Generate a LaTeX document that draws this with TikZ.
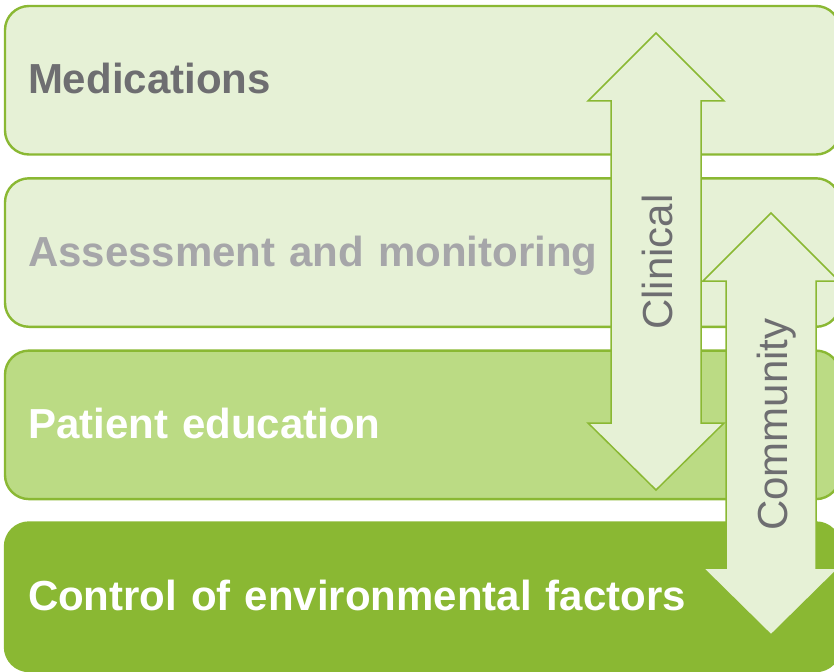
\documentclass[tikz,border=0pt]{standalone}
\usepackage{fontspec}
\setmainfont{Liberation Sans}
\usepackage{tikz}
\definecolor{leafgreen}{HTML}{8AB833}
\definecolor{palegreen}{HTML}{E6F1D6}
\definecolor{midgreen}{HTML}{BBDB84}
\definecolor{slate}{HTML}{6E6E71}
\definecolor{mist}{HTML}{A6A6A9}
\tikzset{
  layer/.style={rounded corners=24pt,line width=2.4pt,draw=leafgreen,
    minimum width=835pt,minimum height=148.5pt,inner xsep=23pt,inner ysep=0pt,
    text width=789pt,align=left,text height=27pt,text depth=0pt,
    font=\fontsize{42}{48}\selectfont\bfseries},
  shaftline/.style={draw=leafgreen,fill=palegreen,line width=1.5pt,line join=miter},
  sidelabel/.style={rotate=90,anchor=base,inner sep=0pt,text=slate,
    font=\fontsize{42}{48}\selectfont}
}
\begin{document}
\begin{tikzpicture}[x=1pt,y=-1pt]
\clip (0,0) rectangle (834,671);
% ---------------- stacked layers ----------------
\node[layer,fill=palegreen,text=slate]  (med)    at (422.5,80.25)  {Medications};
\node[layer,fill=palegreen,text=mist]   (assess) at (422.5,252.55) {Assessment and monitoring};
\node[layer,fill=midgreen,text=white]   (edu)    at (422.5,424.85) {Patient education};
\node[layer,fill=leafgreen,draw=leafgreen,text=white] (envir) at (422.5,596.75) {Control of environmental factors};
% ---------------- two-headed arrows ----------------
\foreach \nm/\cx/\ytop/\ybot/\lab/\ty in {clin/656/33/490/Clinical/262,comm/771/213/635/Community/424.5}{
  \draw[shaftline] (\cx,\ytop) -- (\cx+68,\ytop+68) -- (\cx+45,\ytop+68) -- (\cx+45,\ybot-67)
    -- (\cx+68,\ybot-67) -- (\cx,\ybot) -- (\cx-68,\ybot-67) -- (\cx-45,\ybot-67)
    -- (\cx-45,\ytop+68) -- (\cx-68,\ytop+68) -- cycle;
  \node[sidelabel] (\nm) at (\cx+16,\ty) {\lab};
}
\end{tikzpicture}
\end{document}
